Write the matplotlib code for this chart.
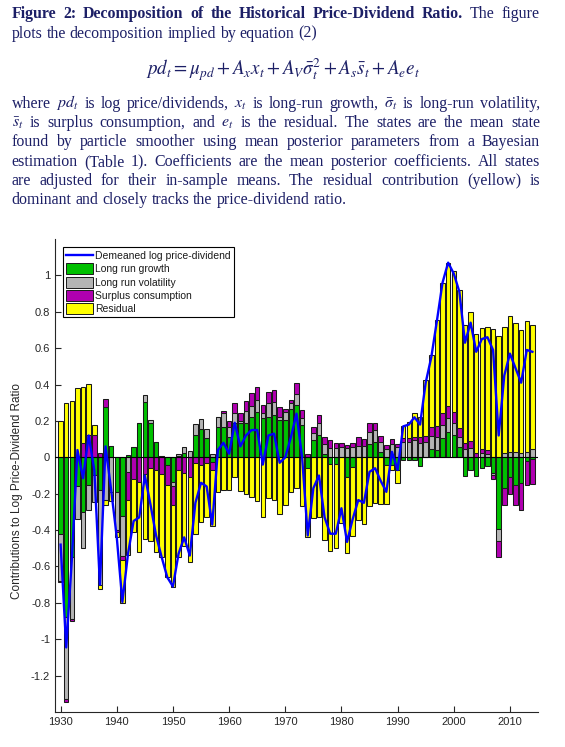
import numpy as np
import matplotlib
matplotlib.use('Agg')
import matplotlib.pyplot as plt
from matplotlib.patches import Patch
from matplotlib.lines import Line2D
from matplotlib.ticker import FuncFormatter

plt.rcParams['axes.unicode_minus'] = False
plt.rcParams['mathtext.fontset'] = 'stix'

years = np.arange(1930, 2015)

# contributions, one row per decade
growth = [
    -0.42, -0.88, -0.55, -0.16, -0.30, -0.15, -0.10, -0.18, 0.275, 0.06,
    -0.19, -0.32, 0.01, 0.055, 0.19, 0.306, 0.19, 0.086, 0.005, -0.04,
    -0.134, 0.005, 0.026, 0.0, 0.123, 0.154, 0.105, -0.024, 0.165, 0.165,
    0.114, 0.19, 0.188, 0.188, 0.224, 0.25, 0.215, 0.224, 0.233, 0.205,
    0.205, 0.264, 0.29, 0.178, -0.06, 0.095, 0.123, 0.02, -0.037, -0.035,
    0.0, -0.11, -0.055, 0.0, 0.0, 0.073, 0.086, 0.03, -0.04, -0.04,
    -0.07, -0.015, -0.015, -0.015, -0.05, 0.0, 0.044, 0.04, 0.105, 0.141,
    0.123, 0.059, -0.103, -0.07, -0.103, -0.06, -0.05, -0.085, -0.396, -0.17,
    -0.11, -0.152, -0.143, -0.02, -0.01]
volatility = [
    -0.26, -0.45, -0.34, -0.18, -0.20, -0.14, -0.145, -0.52, -0.235, -0.19,
    -0.21, -0.22, -0.08, 0.0, 0.0, 0.037, 0.015, 0.0, 0.0, 0.0,
    -0.024, 0.015, 0.033, 0.037, 0.06, 0.055, 0.05, 0.02, 0.059, 0.077,
    0.055, 0.055, 0.01, 0.064, 0.059, 0.064, 0.03, 0.073, 0.07, 0.018,
    0.045, 0.033, 0.057, 0.037, 0.0, 0.037, 0.064, 0.051, 0.05, 0.053,
    0.055, 0.05, 0.055, 0.062, 0.062, 0.068, 0.064, 0.055, 0.044, 0.073,
    0.059, 0.086, 0.086, 0.095, 0.081, 0.086, 0.073, 0.073, 0.073, 0.073,
    0.064, 0.051, 0.044, 0.05, 0.0, 0.022, 0.02, -0.013, -0.064, 0.026,
    0.03, 0.03, 0.022, 0.029, 0.044]
surplus = [
    -0.005, -0.015, -0.01, 0.0, 0.077, 0.123, 0.123, 0.026, 0.044, 0.0,
    -0.01, -0.025, -0.155, -0.12, -0.135, -0.09, -0.06, -0.07, -0.09, -0.11,
    -0.105, -0.07, -0.088, -0.107, -0.03, -0.042, -0.033, -0.045, 0.0, 0.01,
    0.028, 0.052, 0.046, 0.055, 0.073, 0.073, 0.045, 0.064, 0.068, 0.055,
    0.014, 0.018, 0.062, 0.046, 0.018, 0.037, 0.046, 0.043, 0.045, 0.024,
    0.022, 0.018, 0.022, 0.052, 0.038, 0.05, 0.037, 0.032, 0.024, 0.026,
    0.015, 0.018, 0.019, 0.018, 0.033, 0.031, 0.048, 0.057, 0.064, 0.069,
    0.064, 0.05, 0.033, 0.037, 0.026, 0.022, 0.018, -0.02, -0.087, -0.092,
    -0.092, -0.11, -0.144, -0.132, -0.137]
residual = [
    0.20, 0.30, 0.31, 0.38, 0.31, 0.28, 0.055, -0.025, -0.025, -0.05,
    -0.03, -0.235, -0.30, -0.29, -0.385, -0.36, -0.40, -0.45, -0.46, -0.51,
    -0.45, -0.48, -0.40, -0.468, -0.39, -0.313, -0.297, -0.31, -0.19, -0.18,
    -0.18, -0.11, -0.185, -0.20, -0.217, -0.24, -0.327, -0.226, -0.235, -0.31,
    -0.262, -0.19, -0.17, -0.27, -0.38, -0.336, -0.327, -0.455, -0.48, -0.465,
    -0.36, -0.415, -0.375, -0.345, -0.367, -0.27, -0.25, -0.257, -0.217, -0.03,
    -0.073, 0.066, 0.091, 0.129, 0.11, 0.308, 0.40, 0.586, 0.716, 0.785,
    0.771, 0.758, 0.651, 0.713, 0.654, 0.666, 0.676, 0.705, 0.668, 0.69,
    0.748, 0.711, 0.678, 0.718, 0.683]
log_pd = [
    -0.48, -1.045, -0.56, 0.04, -0.115, 0.12, -0.07, -0.70, 0.06, -0.18,
    -0.44, -0.795, -0.53, -0.35, -0.33, -0.10, -0.26, -0.43, -0.55, -0.66,
    -0.71, -0.53, -0.44, -0.54, -0.25, -0.14, -0.16, -0.37, 0.04, 0.08,
    0.02, 0.19, 0.06, 0.12, 0.15, 0.15, -0.04, 0.12, 0.13, -0.03,
    0.0, 0.11, 0.24, 0.0, -0.43, -0.17, -0.10, -0.33, -0.42, -0.42,
    -0.28, -0.465, -0.34, -0.235, -0.25, -0.08, -0.06, -0.13, -0.19, 0.03,
    -0.07, 0.17, 0.18, 0.22, 0.18, 0.41, 0.55, 0.75, 0.96, 1.07,
    1.01, 0.91, 0.63, 0.74, 0.58, 0.65, 0.66, 0.59, 0.12, 0.45,
    0.57, 0.49, 0.41, 0.59, 0.58]

labels = ['Long run growth', 'Long run volatility', 'Surplus consumption', 'Residual']
colors = ['#00c000', '#b4b4b4', '#b000b0', '#ffff00']
line_label = 'Demeaned log price-dividend'

W, H = 565, 747
txt_col = '#1c1f66'
fig = plt.figure(figsize=(W / 100, H / 100), dpi=100)

# ---- caption, justified word by word ----
serif = 'Liberation Serif'
rend = fig.canvas.get_renderer()


def text_width(s, size, weight='normal'):
    t = fig.text(0, 0, s, fontsize=size, family=serif, weight=weight)
    w = t.get_window_extent(rend).width
    t.remove()
    return w


# size the body font so the widest plain line fills ~95% of the column
probe = 'estimation (Table 1). Coefficients are the mean posterior coefficients. All states'
fs = 10 * 0.95 * 528 / text_width(probe, 10)
space = text_width('a a', fs) - text_width('aa', fs)


def put_line(words, base, x0=11.5, x1=540.0, justify=True):
    items = []
    for w, bold in words:
        t = fig.text(0, 0, w, fontsize=fs, family=serif, color=txt_col,
                     weight='bold' if bold else 'normal', va='baseline')
        items.append(t)
    widths = [t.get_window_extent(rend).width for t in items]
    if justify and len(items) > 1:
        gap = (x1 - x0 - sum(widths)) / (len(items) - 1)
    else:
        gap = space
    x = x0
    for t, w in zip(items, widths):
        t.set_position((x / W, 1 - base / H))
        x += w + gap


def split(s, bold=False):
    return [(w, bold) for w in s.split(' ')]


put_line(split('Figure 2: Decomposition of the Historical Price-Dividend Ratio.', True)
         + split('The figure'), 18.5)
put_line(split('plots the decomposition implied by equation (2)'), 37.5, justify=False)
fig.text(283 / W, 1 - 75 / H,
         r'$pd_t = \mu_{pd} + A_x x_t + A_V \bar{\sigma}_t^2 + A_s \bar{s}_t + A_e e_t$',
         fontsize=fs * 1.2, color=txt_col, ha='center', va='baseline')
put_line([('where', False), (r'$pd_t$', False)] + split('is log price/dividends,')
         + [(r'$x_t$', False)] + split('is long-run growth,') + [(r'$\bar{\sigma}_t$', False)]
         + split('is long-run volatility,'), 107.5)
put_line([(r'$\bar{s}_t$', False)] + split('is surplus consumption, and') + [(r'$e_t$', False)]
         + split('is the residual. The states are the mean state'), 127)
put_line(split('found by particle smoother using mean posterior parameters from a Bayesian'), 146.5)
put_line(split('estimation (Table 1). Coefficients are the mean posterior coefficients. All states'), 166)
put_line(split('are adjusted for their in-sample means. The residual contribution (yellow) is'), 185)
put_line(split('dominant and closely tracks the price-dividend ratio.'), 204.5, justify=False)

# ---- chart ----
ax = fig.add_axes([55 / W, 1 - 712 / H, 483 / W, 473 / H])
pos = np.zeros(len(years))
neg = np.zeros(len(years))
for vals, col in zip([growth, volatility, surplus, residual], colors):
    v = np.asarray(vals)
    bottom = np.where(v >= 0, pos, neg)
    ax.bar(years, v, 0.8, bottom=bottom, color=col, edgecolor='#1a1a1a', linewidth=0.75, zorder=2)
    pos += np.clip(v, 0, None)
    neg += np.clip(v, None, 0)

ax.axhline(0, color='k', lw=0.8, zorder=3)
ax.plot(years, log_pd, color='#0000ff', lw=1.7, zorder=4)

ax.set_xlim(1929, 2015)
ax.set_ylim(-1.4, 1.2)
ax.set_xticks(np.arange(1930, 2011, 10))
ax.set_yticks(np.arange(-1.2, 1.01, 0.2))
ax.yaxis.set_major_formatter(FuncFormatter(lambda v, _: '%g' % (round(v, 1) + 0.0)))
for sp in ['top', 'right']:
    ax.spines[sp].set_visible(False)
for sp in ['left', 'bottom']:
    ax.spines[sp].set_color('#262626')
    ax.spines[sp].set_linewidth(0.8)
ax.tick_params(direction='in', length=4, width=0.8, color='#262626', labelcolor='#262626',
               labelsize=8)
for lab in ax.get_xticklabels() + ax.get_yticklabels():
    lab.set_family('Liberation Sans')

fig.text(17 / W, 1 - 491 / H, 'Contributions to Log Price-Dividend Ratio', rotation=90,
         ha='center', va='center', fontsize=8.5, family='Liberation Sans', color='#262626')

handles = [Line2D([], [], color='#0000ff', lw=1.7)]
handles += [Patch(facecolor=c, edgecolor='#1a1a1a', lw=0.7) for c in colors]
leg = ax.legend(handles, [line_label] + labels, loc='upper left',
                bbox_to_anchor=((63 - 55) / 483, (712 - 247) / 473),
                prop={'family': 'Liberation Sans', 'size': 7.5},
                frameon=True, fancybox=False, edgecolor='k', framealpha=1,
                handlelength=2.6, handleheight=1.25, labelspacing=0.22,
                handletextpad=0.2, borderpad=0.3, borderaxespad=0)
leg.get_frame().set_linewidth(0.8)
for t in leg.get_texts():
    t.set_color('#1a1a1a')

fig.savefig('out.png', dpi=100)
